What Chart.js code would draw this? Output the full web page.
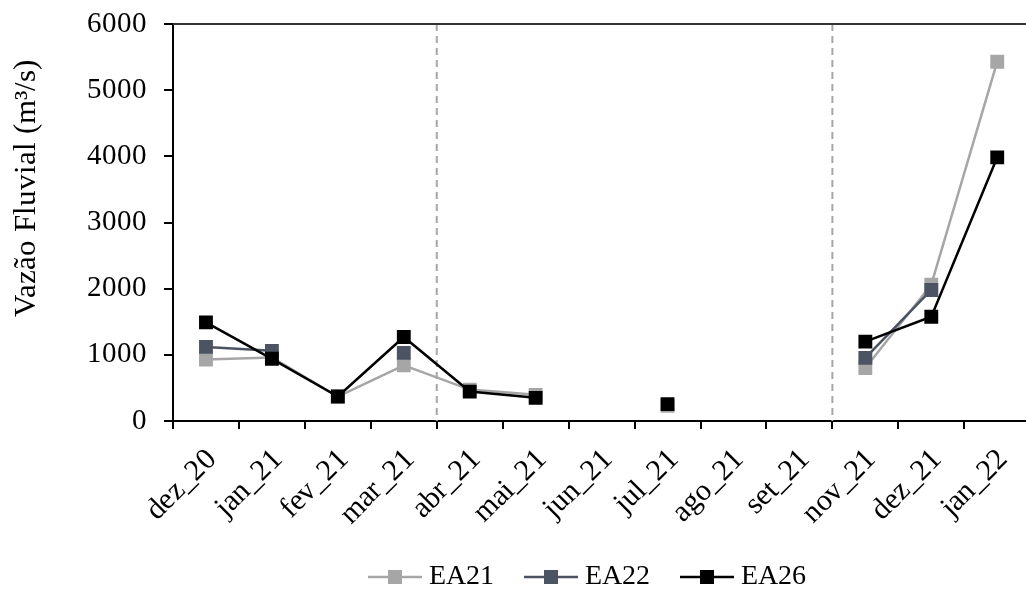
<!DOCTYPE html>
<html>
<head>
<meta charset="utf-8">
<script src="https://cdn.jsdelivr.net/npm/chart.js@4.4.0/dist/chart.umd.min.js"></script>
<style>
  @font-face { font-family: 'ChartSerif'; src: local('Liberation Serif'), local('LiberationSerif'), local('LiberationSerif-Regular'), local('Times New Roman'); }
  html, body { margin: 0; padding: 0; background: #fff; overflow: hidden; }
  .wrap { width: 1026px; height: 598px; overflow: hidden; position: relative; }
  .chart-box { position: absolute; left: 0; top: 0; width: 1040px; height: 598px; }
  .warm { position: absolute; left: -999px; font-family: 'ChartSerif'; }
</style>
</head>
<body>
<span class="warm">EA21 0123</span>
<div class="wrap"><div class="chart-box"><canvas id="vazao"></canvas></div></div>
<script>
// Monthly river discharge (m³/s) at the three stations
const months = ['dez_20', 'jan_21', 'fev_21', 'mar_21', 'abr_21', 'mai_21', 'jun_21',
                'jul_21', 'ago_21', 'set_21', 'nov_21', 'dez_21', 'jan_22'];
const ea21 = [930, 960, 370, 840, 475, 395, null, 230, null, null, 800, 2060, 5430];
const ea22 = [1120, 1060, null, 1030, null, null, null, null, null, null, 955, 1980, null];
const ea26 = [1490, 940, 370, 1270, 445, 350, null, 255, null, null, 1200, 1575, 3985];
const yTicks = [0, 1000, 2000, 3000, 4000, 5000, 6000];
// campaign boundaries: dashed line on the left edge of these months
const campaignBreaks = ['abr_21', 'nov_21'];

const serif = 'ChartSerif, "Liberation Serif", "Times New Roman", serif';

// legend swatch: short line with a square marker in the middle
function legendSwatch(color) {
  const c = document.createElement('canvas');
  c.width = 54; c.height = 16;
  const g = c.getContext('2d');
  g.strokeStyle = color; g.lineWidth = 2.5;
  g.beginPath(); g.moveTo(0, 8); g.lineTo(54, 8); g.stroke();
  g.fillStyle = color;
  g.fillRect(20, 1, 14, 14);
  return c;
}

const frame = {
  id: 'frame',
  afterLayout(chart) {
    // legend row sits under the middle of the plot, close to the month labels
    const lg = chart.legend;
    lg.left = chart.chartArea.left + 165;
    lg.top = chart.chartArea.bottom + 105;
    lg.bottom = chart.height;
  },
  beforeDatasetsDraw(chart) {
    const {ctx, chartArea: a, scales: {x}} = chart;
    ctx.save();
    ctx.strokeStyle = '#a6a6a6';
    ctx.lineWidth = 2;
    ctx.setLineDash([7, 5]);
    campaignBreaks.forEach(m => {
      const i = months.indexOf(m);
      const px = (x.getPixelForValue(i - 1) + x.getPixelForValue(i)) / 2;
      ctx.beginPath(); ctx.moveTo(px, a.top); ctx.lineTo(px, a.bottom); ctx.stroke();
    });
    ctx.setLineDash([]);
    ctx.strokeStyle = '#333';
    ctx.beginPath(); ctx.moveTo(a.left, a.top); ctx.lineTo(a.right, a.top); ctx.stroke();
    ctx.restore();
  },
  afterDraw(chart) {
    const {ctx, chartArea: a} = chart;
    ctx.save();
    ctx.translate(a.left - 146, a.top + 164);
    ctx.rotate(-Math.PI / 2);
    ctx.font = '31px ' + serif;
    ctx.fillStyle = '#000';
    ctx.textAlign = 'center';
    ctx.textBaseline = 'middle';
    ctx.fillText('Vazão Fluvial (m³/s)', 0, 0);
    ctx.restore();
  }
};

const series = [
  { label: 'EA21', data: ea21, color: '#a6a6a6', order: 3 },
  { label: 'EA22', data: ea22, color: '#4c5362', order: 2 },
  { label: 'EA26', data: ea26, color: '#000000', order: 1 }
];

function build() {
  new Chart(document.getElementById('vazao'), {
    type: 'line',
    data: {
      labels: months,
      datasets: series.map(s => ({
        label: s.label,
        data: s.data,
        order: s.order,
        borderColor: s.color,
        backgroundColor: s.color,
        borderWidth: 2.5,
        tension: 0,
        spanGaps: false,
        pointStyle: 'rect',
        pointRadius: 9.8,
        pointBackgroundColor: s.color,
        pointBorderColor: s.color,
        pointBorderWidth: 0
      }))
    },
    options: {
      responsive: true,
      maintainAspectRatio: false,
      animation: false,
      layout: { padding: { left: 0, right: 5, top: 24, bottom: 0 } },
      plugins: {
        tooltip: { enabled: false },
        legend: {
          position: 'bottom',
          align: 'start',
          maxHeight: 56,
          labels: {
            usePointStyle: true,
            pointStyleWidth: 40,
            padding: 37,
            color: '#000',
            font: { family: serif, size: 28 },
            generateLabels: chart => chart.data.datasets.map((ds, i) => ({
              text: ds.label,
              datasetIndex: i,
              pointStyle: legendSwatch(ds.borderColor),
              fillStyle: ds.borderColor,
              strokeStyle: ds.borderColor,
              lineWidth: 0,
              fontColor: '#000',
              hidden: false
            }))
          }
        }
      },
      scales: {
        x: {
          offset: true,
          grid: { offset: true, drawOnChartArea: false, tickLength: 8, color: '#000', lineWidth: 2 },
          border: { display: true, color: '#000', width: 2 },
          ticks: {
            autoSkip: false, minRotation: 45, maxRotation: 45, padding: 13, labelOffset: 6,
            color: '#000', font: { family: serif, size: 30 }
          },
          afterFit: s => { s.height = 121; }
        },
        y: {
          min: 0,
          max: 6000,
          afterBuildTicks: s => { s.ticks = yTicks.map(v => ({ value: v })); },
          grid: { drawOnChartArea: false, tickLength: 9, color: '#000', lineWidth: 2 },
          border: { display: true, color: '#000', width: 2 },
          ticks: { padding: 17, color: '#000', font: { family: serif, size: 29 }, callback: v => String(v) },
          afterFit: s => { s.width = 173; s.paddingTop = 0; s.paddingBottom = 0; }
        }
      }
    },
    plugins: [frame]
  });
}

document.fonts.load('28px ChartSerif').then(build, build);
</script>
</body>
</html>
